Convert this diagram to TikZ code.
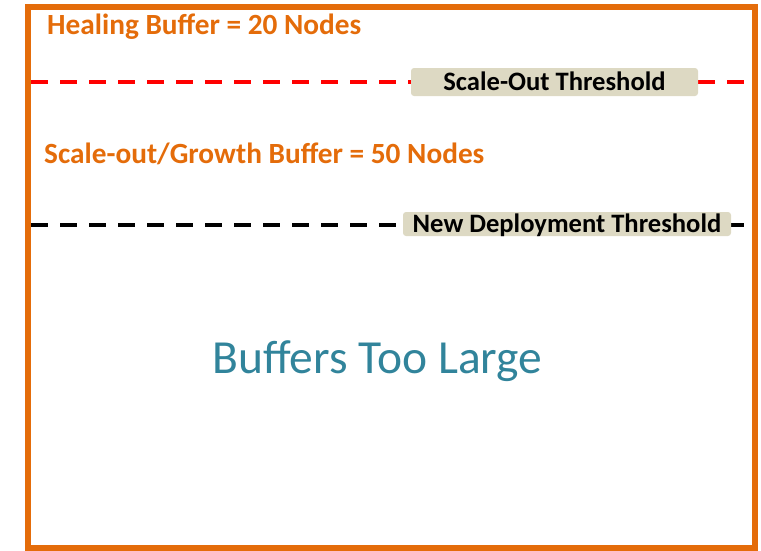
\documentclass[tikz,border=0pt]{standalone}
\usepackage{fontspec}
\setmainfont{Carlito}
\usepackage{xcolor}
\usepackage{tikz}
\usetikzlibrary{positioning}

\definecolor{frameorange}{HTML}{E46C0A}
\definecolor{labeltan}{HTML}{DDD9C3}
\definecolor{bigteal}{HTML}{31849B}

\tikzset{
  buffertext/.style={anchor=base west, inner sep=0pt, text=frameorange, font=\fontsize{29.3}{34}\selectfont\bfseries},
  thresholdbox/.style={fill=labeltan, rounded corners=3pt, inner sep=0pt, text height=16pt, text depth=0pt, font=\fontsize{26.6}{31}\selectfont\bfseries},
  thresholdline/.style={line width=4.5pt, dash pattern=on 17pt off 12pt}
}

\begin{document}
\begin{tikzpicture}[x=1pt,y=-1pt]
  \useasboundingbox (0,0) rectangle (761,550);

  % outer frame
  \draw [frameorange, line width=6pt] (28,6.5) rectangle (755,547.5);

  % buffer labels
  \node[buffertext] (healing) at (47,34) {Healing Buffer = 20 Nodes};
  \node[buffertext] (growth) at (44,163.5) {Scale-out/Growth Buffer = 50 Nodes};

  % scale-out threshold
  \coordinate (RedStart) at (31,82);
  \coordinate (RedEnd)   at (752,82);
  \draw [thresholdline, red] (RedStart) -- (RedEnd);
  \node[thresholdbox, minimum width=287pt, minimum height=28pt] (scaleout) at (554.5,82) {Scale-Out Threshold};

  % new deployment threshold
  \coordinate (BlackStart) at (31,225);
  \coordinate (BlackEnd)   at (752,225);
  \draw [thresholdline, black] (BlackStart) -- (BlackEnd);
  \node[thresholdbox, minimum width=328pt, minimum height=24pt] (newdeploy) at (567,224) {New Deployment Threshold};

  % verdict
  \node[anchor=base, inner sep=0pt, text=bigteal, font=\fontsize{47.5}{55}\selectfont] (verdict) at (377.5,373) {Buffers Too Large};

\end{tikzpicture}
\end{document}
